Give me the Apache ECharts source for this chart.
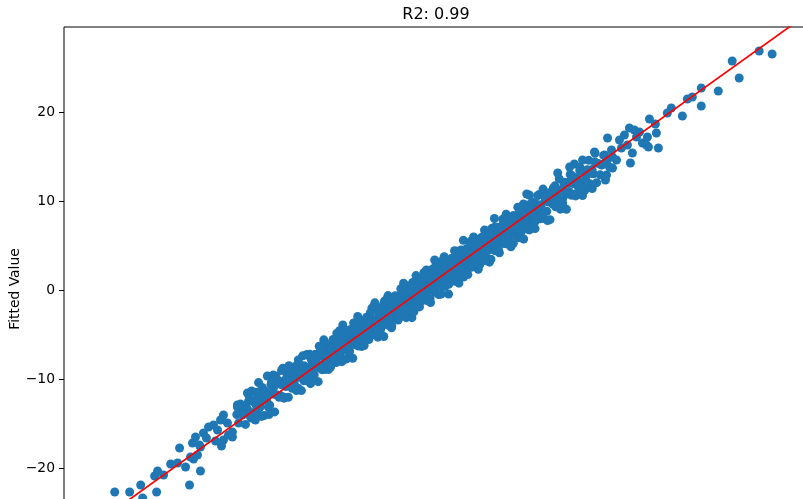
<!DOCTYPE html>
<html><head><meta charset="utf-8">
<script src="https://cdn.jsdelivr.net/npm/echarts@6/dist/echarts.min.js"></script>
<style>html,body{margin:0;padding:0;background:#fff}#c{width:803px;height:499px}</style>
</head><body><div id="c"></div>
<script>
const titleText = 'R2: 0.99';
const yAxisLabel = 'Fitted Value';
const yTicks = [-30, -20, -10, 0, 10, 20];
const refLine = [-30, 32];

const lowerTail = [
[-24.72,-22.70],[-23.52,-22.70],[-22.63,-21.91],[-22.47,-23.37],[-21.35,-22.70],[-21.51,-20.90],[-21.27,-20.34],[-20.79,-20.79],[-20.22,-19.55],[-19.50,-17.75],[-19.02,-19.89],[-18.70,-21.91],[-17.82,-20.34],[-18.38,-18.99],[-18.46,-17.19],[-18.22,-16.52],[-17.90,-17.42],[-19.66,-19.44],[-17.17,-15.39],[-17.34,-16.63],[-16.61,-16.97],[-16.13,-17.53],[-16.45,-15.73],[-15.97,-14.04],[-15.57,-16.29],[-15.25,-16.52],[-14.85,-12.92],[-14.04,-11.57],[-13.24,-11.69],[-13.40,-14.61],[-12.44,-9.66],[-11.96,-9.55],[-10.83,-9.33],[-10.35,-8.99],[-9.95,-7.87],
[-17.82,-17.64],[-18.06,-18.54],[-18.62,-18.76],[-17.58,-16.07],[-16.77,-15.17],[-16.21,-14.61],[-15.65,-14.94],[-15.25,-15.96],[-15.97,-16.85],[-14.85,-13.15],[-14.37,-13.71],[-13.80,-14.27],[-13.24,-13.48],[-13.00,-12.70],[-12.76,-12.13],[-12.36,-13.15]
];

const bandNeg = [
[-14.9,-14.0],[-14.75,-14.95],[-14.6,-12.8],[-14.45,-14.05],[-14.3,-13.1],[-14.2,-15.1],[-14.05,-13.35],
[-13.95,-12.5],[-13.8,-13.75],[-13.7,-11.35],[-13.55,-14.1],[-13.4,-12.45],[-13.3,-13.05],[-13.15,-10.4],[-13.05,-13.2],
[-12.95,-12.45],[-12.85,-10.95],[-12.7,-14.1],[-12.6,-11.4],[-12.5,-12.4],[-12.4,-11.7],[-12.25,-12.95],[-12.15,-10.65],[-12.05,-11.65],
[-11.95,-11.0],[-11.85,-13.7],[-11.75,-9.7],[-11.65,-11.8],[-11.5,-10.25],[-11.4,-11.85],[-11.3,-10.65],[-11.2,-8.8],[-11.1,-12.05],[-11.02,-10.17],
[-10.95,-10.85],[-10.85,-9.35],[-10.75,-12.05],[-10.65,-9.65],[-10.55,-10.15],[-10.45,-11.05],[-10.35,-9.65],[-10.25,-10.65],[-10.15,-8.55],[-10.08,-9.88],[-10.02,-9.02],
[-9.95,-11.05],[-9.87,-9.37],[-9.8,-8.5],[-9.7,-9.8],[-9.6,-7.4],[-9.5,-10.2],[-9.42,-8.62],[-9.35,-9.25],[-9.25,-7.25],[-9.17,-9.47],[-9.1,-8.7],[-9.03,-7.23],
[-8.97,-10.52],[-8.9,-7.85],[-8.82,-8.87],[-8.75,-8.2],[-8.67,-9.52],[-8.6,-7.25],[-8.5,-8.25],[-8.42,-7.57],[-8.35,-10.3],[-8.27,-6.32],[-8.2,-8.45],[-8.12,-6.97],[-8.05,-8.6],
[-7.97,-7.47],[-7.9,-5.6],[-7.83,-8.93],[-7.75,-7.05],[-7.68,-7.68],[-7.6,-6.2],[-7.53,-8.93],[-7.45,-6.55],[-7.38,-7.08],[-7.3,-8.0],[-7.23,-6.63],[-7.15,-7.65],[-7.08,-5.58],[-7.02,-6.92],
[-6.97,-6.12],[-6.9,-8.15],[-6.83,-6.48],[-6.77,-5.62],[-6.7,-6.95],[-6.63,-4.58],[-6.57,-7.42],[-6.5,-5.85],[-6.43,-6.48],[-6.37,-3.92],[-6.3,-6.75],[-6.23,-5.98],[-6.17,-4.52],[-6.1,-7.75],[-6.03,-5.08],
[-5.97,-6.17],[-5.9,-5.5],[-5.83,-6.83],[-5.77,-4.57],[-5.7,-5.6],[-5.63,-4.93],[-5.57,-7.67],[-5.5,-3.7],[-5.43,-5.83],[-5.37,-4.37],[-5.3,-6.0],[-5.23,-4.83],[-5.17,-2.97],[-5.1,-6.3],[-5.03,-4.43],
[-4.97,-5.07],[-4.9,-3.6],[-4.84,-6.34],[-4.78,-3.98],[-4.71,-4.51],[-4.65,-5.45],[-4.59,-4.09],[-4.53,-5.13],[-4.46,-3.06],[-4.4,-4.4],[-4.34,-3.54],[-4.27,-5.57],[-4.21,-3.91],[-4.15,-3.05],[-4.09,-4.39],[-4.03,-2.03],
[-3.97,-4.92],[-3.91,-3.36],[-3.85,-4.0],[-3.79,-1.44],[-3.73,-4.28],[-3.67,-3.52],[-3.61,-2.06],[-3.55,-5.3],[-3.49,-2.64],[-3.43,-3.68],[-3.37,-3.02],[-3.31,-4.36],[-3.25,-2.1],[-3.19,-3.14],[-3.13,-2.48],[-3.07,-5.22],[-3.02,-1.27],
[-2.97,-3.47],[-2.91,-2.01],[-2.85,-3.65],[-2.79,-2.49],[-2.73,-0.63],[-2.67,-3.97],[-2.61,-2.11],[-2.55,-2.75],[-2.49,-1.29],[-2.43,-4.03],[-2.37,-1.67],[-2.31,-2.21],[-2.25,-3.15],[-2.19,-1.79],[-2.13,-2.83],[-2.07,-0.77],[-2.02,-2.12],
[-1.97,-1.32],[-1.92,-3.37],[-1.86,-1.71],[-1.81,-0.86],[-1.75,-2.2],[-1.7,0.15],[-1.64,-2.69],[-1.59,-1.14],[-1.53,-1.78],[-1.48,0.77],[-1.42,-2.07],[-1.37,-1.32],[-1.31,0.14],[-1.26,-3.11],[-1.2,-0.45],[-1.15,-1.5],[-1.09,-0.84],[-1.03,-2.18],
[-0.97,0.03],[-0.92,-1.02],[-0.86,-0.36],[-0.81,-3.11],[-0.75,0.85],[-0.7,-1.3],[-0.64,0.16],[-0.59,-1.49],[-0.53,-0.33],[-0.48,1.62],[-0.42,-1.82],[-0.37,0.03],[-0.31,-0.61],[-0.26,0.84],[-0.2,-1.9],[-0.15,0.45],[-0.09,-0.09],[-0.03,-1.03]
];

const bandPos = [
[0.03,-0.37],[0.08,1.38],[0.14,0.34],[0.19,-0.81],[0.25,0.95],[0.3,0.2],[0.36,2.26],[0.41,-1.19],[0.47,0.97],[0.52,-0.08],[0.58,1.58],[0.63,0.63],[0.69,-1.41],[0.74,1.54],[0.8,0.5],[0.85,2.35],[0.91,0.01],[0.97,1.27],
[1.02,3.37],[1.08,-0.27],[1.13,1.68],[1.19,0.64],[1.24,2.39],[1.3,1.05],[1.35,-0.5],[1.41,2.26],[1.46,1.51],[1.52,0.77],[1.57,3.22],[1.63,0.48],[1.68,2.03],[1.74,1.49],[1.79,3.74],[1.85,0.4],[1.9,2.45],[1.96,1.11],
[2.02,2.12],[2.08,3.08],[2.14,-0.46],[2.2,2.4],[2.26,1.76],[2.32,3.52],[2.38,2.48],[2.44,1.34],[2.5,3.1],[2.56,2.36],[2.62,4.42],[2.68,0.98],[2.74,3.14],[2.8,2.1],[2.86,3.76],[2.92,2.82],[2.97,0.77],
[3.03,3.68],[3.09,2.64],[3.15,4.5],[3.21,2.16],[3.27,3.42],[3.33,5.58],[3.39,1.94],[3.45,3.9],[3.51,2.86],[3.57,4.62],[3.63,3.28],[3.69,1.74],[3.75,4.5],[3.81,3.76],[3.87,3.02],[3.93,5.48],[3.98,2.73],
[4.03,4.23],[4.09,3.69],[4.15,5.95],[4.21,2.61],[4.27,4.67],[4.34,3.34],[4.4,4.4],[4.46,5.36],[4.53,2.33],[4.59,4.69],[4.65,4.05],[4.71,5.81],[4.78,4.78],[4.84,3.64],[4.9,5.4],[4.97,4.67],
[5.03,6.73],[5.1,3.3],[5.17,5.47],[5.23,4.43],[5.3,6.1],[5.37,5.17],[5.43,3.13],[5.5,6.1],[5.57,5.07],[5.63,6.93],[5.7,4.6],[5.77,5.87],[5.83,8.03],[5.9,4.4],[5.97,6.37],
[6.03,5.28],[6.1,7.05],[6.17,5.72],[6.23,4.18],[6.3,6.95],[6.37,6.22],[6.43,5.48],[6.5,7.95],[6.57,5.22],[6.63,6.78],[6.7,6.25],[6.77,8.52],[6.83,5.18],[6.9,7.25],[6.97,5.92],
[7.02,6.92],[7.09,7.89],[7.16,4.86],[7.23,7.23],[7.3,6.6],[7.37,8.37],[7.44,7.34],[7.5,6.2],[7.57,7.97],[7.64,7.24],[7.71,9.31],[7.78,5.88],[7.85,8.05],[7.93,7.03],
[8.03,8.68],[8.1,7.75],[8.18,5.73],[8.25,8.7],[8.33,7.68],[8.4,9.55],[8.48,7.23],[8.55,8.5],[8.63,10.68],[8.7,7.05],[8.78,9.03],[8.85,8.0],[8.93,9.78],
[9.03,8.43],[9.1,6.9],[9.18,9.68],[9.26,8.96],[9.34,8.24],[9.42,10.72],[9.5,8.0],[9.58,9.58],[9.66,9.06],[9.74,11.34],[9.82,8.02],[9.92,10.12],
[10.04,8.84],[10.12,9.92],[10.22,10.92],[10.3,7.9],[10.4,10.3],[10.48,9.68],[10.57,11.47],[10.66,10.46],[10.75,9.35],[10.84,11.14],[10.94,10.44],
[11.04,12.49],[11.13,9.08],[11.22,11.27],[11.32,10.27],[11.42,11.97],[11.52,11.07],[11.62,9.07],[11.72,12.07],[11.82,11.07],[11.93,12.98],
[12.05,10.65],[12.15,11.95],[12.26,14.16],[12.37,10.57],[12.48,12.58],[12.58,11.58],[12.69,13.39],[12.8,12.1],[12.92,10.62],
[13.05,13.4],[13.18,12.73],[13.3,12.05],[13.42,14.57],[13.55,11.9],[13.68,13.53],[13.8,13.05],[13.93,15.38],
[14.06,12.06],[14.2,14.2],[14.34,12.94],[14.48,14.08],[14.62,15.12],[14.76,12.36],[14.9,14.6]
];

const bandFill = [
[-13.9,-11.9],[-13.7,-14.4],[-13.5,-12.6],[-13.3,-11.5],[-13.1,-13.2],[-12.9,-14.2],[-12.7,-11.3],[-12.5,-11.9],[-12.3,-14.0],[-12.1,-10.3],[-11.9,-11.7],[-11.7,-10.5],[-11.5,-12.05],[-11.3,-9.05],[-11.1,-12.15],[-10.9,-9.95],[-10.7,-8.5],[-10.5,-10.85],[-10.3,-9.9],[-10.1,-11.3],[-9.9,-8.4],[-9.7,-11.3],[-9.5,-8.5],[-9.3,-7.3],[-9.1,-9.1],
[-8.95,-10.05],[-8.85,-7.85],[-8.75,-8.35],[-8.65,-10.15],[-8.55,-7.25],[-8.45,-8.35],[-8.35,-7.45],[-8.25,-8.75],[-8.15,-6.45],[-8.05,-8.95],
[-7.95,-7.25],[-7.85,-5.75],[-7.75,-8.05],[-7.65,-7.35],[-7.55,-8.55],[-7.45,-6.25],[-7.35,-8.65],[-7.25,-6.45],[-7.15,-5.55],[-7.05,-7.05],
[-6.95,-7.65],[-6.85,-4.85],[-6.75,-6.25],[-6.65,-7.05],[-6.55,-5.25],[-6.45,-8.05],[-6.35,-5.45],[-6.25,-6.25],[-6.15,-4.55],[-6.05,-6.75],
[-5.95,-5.55],[-5.85,-7.05],[-5.75,-4.45],[-5.65,-5.85],[-5.55,-4.65],[-5.45,-4.05],[-5.35,-6.15],[-5.25,-4.75],[-5.15,-3.35],[-5.05,-5.35],
[-4.95,-6.15],[-4.85,-3.95],[-4.75,-4.45],[-4.65,-6.25],[-4.55,-3.35],[-4.45,-4.45],[-4.35,-3.55],[-4.25,-4.85],[-4.15,-2.55],[-4.05,-5.05],
[-3.95,-3.35],[-3.85,-1.85],[-3.75,-4.25],[-3.65,-3.55],[-3.55,-4.75],[-3.45,-2.45],[-3.35,-4.85],[-3.25,-2.65],[-3.15,-1.75],[-3.05,-3.25],
[-2.95,-3.85],[-2.85,-1.05],[-2.75,-2.45],[-2.65,-3.25],[-2.55,-1.45],[-2.45,-4.25],[-2.35,-1.65],[-2.25,-2.35],[-2.15,-0.65],[-2.05,-2.85],
[-1.95,-1.65],[-1.85,-3.15],[-1.75,-0.55],[-1.65,-1.95],[-1.55,-0.75],[-1.45,-0.15],[-1.35,-2.25],[-1.25,-0.95],[-1.15,0.45],[-1.05,-1.55],
[-0.95,-2.35],[-0.85,-0.15],[-0.75,-0.65],[-0.65,-2.45],[-0.55,0.45],[-0.45,-0.65],[-0.35,0.25],[-0.25,-1.05],[-0.15,1.25],[-0.05,-1.25],
[0.05,0.45],[0.15,1.95],[0.25,-0.35],[0.35,0.35],[0.45,-0.85],[0.55,1.45],[0.65,-0.95],[0.75,1.25],[0.85,2.15],[0.95,0.65],
[1.05,0.05],[1.15,2.85],[1.25,1.35],[1.35,0.55],[1.45,2.35],[1.55,-0.45],[1.65,2.15],[1.75,1.45],[1.85,3.15],[1.95,0.95],
[2.05,2.15],[2.15,0.65],[2.25,3.25],[2.35,1.85],[2.45,3.05],[2.55,3.65],[2.65,1.55],[2.75,2.95],[2.85,4.35],[2.95,2.35],
[3.05,1.55],[3.15,3.75],[3.25,3.25],[3.35,1.45],[3.45,4.35],[3.55,3.25],[3.65,4.15],[3.75,2.75],[3.85,5.05],[3.95,2.55],
[4.05,4.25],[4.15,5.75],[4.25,3.45],[4.35,4.15],[4.45,2.95],[4.55,5.25],[4.65,2.85],[4.75,5.05],[4.85,5.95],[4.95,4.45],
[5.05,3.85],[5.15,6.65],[5.25,5.25],[5.35,4.45],[5.45,6.25],[5.55,3.45],[5.65,6.05],[5.75,5.35],[5.85,7.05],[5.95,4.85],
[6.05,6.05],[6.15,4.55],[6.25,7.05],[6.35,5.65],[6.45,6.85],[6.55,7.45],[6.65,5.35],[6.75,6.75],[6.85,8.15],[6.95,6.15],
[7.05,5.35],[7.15,7.55],[7.25,7.05],[7.35,5.25],[7.45,8.15],[7.55,7.05],[7.65,7.95],[7.75,6.65],[7.85,8.95],[7.95,6.45],
[8.05,8.15],[8.15,9.65],[8.25,7.35],[8.35,8.05],[8.45,6.85],[8.55,9.15],[8.65,6.75],[8.75,8.95],[8.85,9.85],[8.95,8.35],
[9.1,7.7],[9.3,10.6],[9.5,9.3],[9.7,8.6],[9.9,10.5],[10.1,7.8],[10.3,10.5],[10.5,9.9],[10.7,11.7],[10.9,9.6],[11.1,10.9],[11.3,9.5],[11.5,12.1],[11.7,10.8],[11.9,12.1],[12.1,12.8],[12.3,10.8],[12.5,12.3],[12.7,13.8],[12.9,11.9],[13.1,11.2],[13.3,13.5],[13.5,13.1],[13.7,11.4],[13.9,14.4]
];

const upperTail = [
[27.13,26.85],[28.17,26.52],[24.96,25.73],[25.52,23.82],[23.84,22.36],[22.47,22.70],[22.47,20.67],[21.75,21.69],[21.35,21.46],[20.95,19.55],[20.06,20.45],[19.74,19.89],[19.02,15.96],[18.30,19.21],[18.78,18.65],[18.86,17.64],[16.69,18.20],[16.29,17.42],[16.77,14.27],[14.85,12.92],[14.93,17.08],[17.74,16.52],[18.22,16.07],[16.93,15.39],[15.33,13.71],[17.50,17.75],[17.09,17.98],[17.26,17.19],[18.14,17.19],[18.06,16.29],[14.85,14.61],[15.33,14.94],[14.69,15.17],[15.25,15.73],[15.65,14.61],[14.45,14.04],[16.05,15.96],[16.53,16.29],[15.89,16.85],[12.84,10.90],[11.32,9.78],[8.43,10.79],[11.88,13.82],[10.92,13.15],[13.88,15.51],[12.92,14.61],[13.24,11.80],[15.09,13.82]
];

const points = lowerTail.concat(bandNeg, bandPos, bandFill, upperTail);
const font = 'DejaVu Sans';
const chart = echarts.init(document.getElementById('c'), null, {renderer: 'canvas'});
chart.setOption({
  animation: false,
  backgroundColor: '#ffffff',
  grid: {left: 64, top: 27, width: 793, height: 530, show: true, borderColor: '#000', borderWidth: 1,
         backgroundColor: 'transparent', containLabel: false, outerBoundsMode: 'none'},
  xAxis: {type: 'value', min: -28.8, max: 35, axisLine: {show: false, onZero: false}, axisTick: {show: false},
          axisLabel: {show: false}, splitLine: {show: false}},
  yAxis: {type: 'value', min: -30, max: 29.55, axisLine: {show: false, onZero: false},
          axisTick: {show: true, inside: false, length: 5, lineStyle: {color: '#000', width: 1}, customValues: yTicks},
          axisLabel: {customValues: yTicks, margin: 9, color: '#000', fontSize: 13.9, fontFamily: font,
                      formatter: v => String(v).replace('-', '\u2212')},
          splitLine: {show: false}},
  series: [
    {type: 'scatter', data: points, symbolSize: 9, itemStyle: {color: '#1f77b4', opacity: 1}, silent: true, z: 2, large: false},
    {type: 'line', data: refLine.map(v => [v, v]), symbol: 'none', lineStyle: {color: '#ff0000', width: 1.7}, z: 3, silent: true}
  ],
  graphic: [
    {type: 'text', x: 436, y: 15, z: 10, style: {text: titleText, fontSize: 16, fontFamily: font, fill: '#000', textAlign: 'center', textVerticalAlign: 'middle'}},
    {type: 'text', x: 15, y: 289, rotation: Math.PI / 2, z: 10, style: {text: yAxisLabel, fontSize: 13.9, fontFamily: font, fill: '#000', textAlign: 'center', textVerticalAlign: 'middle'}}
  ]
});
</script>
</body></html>
